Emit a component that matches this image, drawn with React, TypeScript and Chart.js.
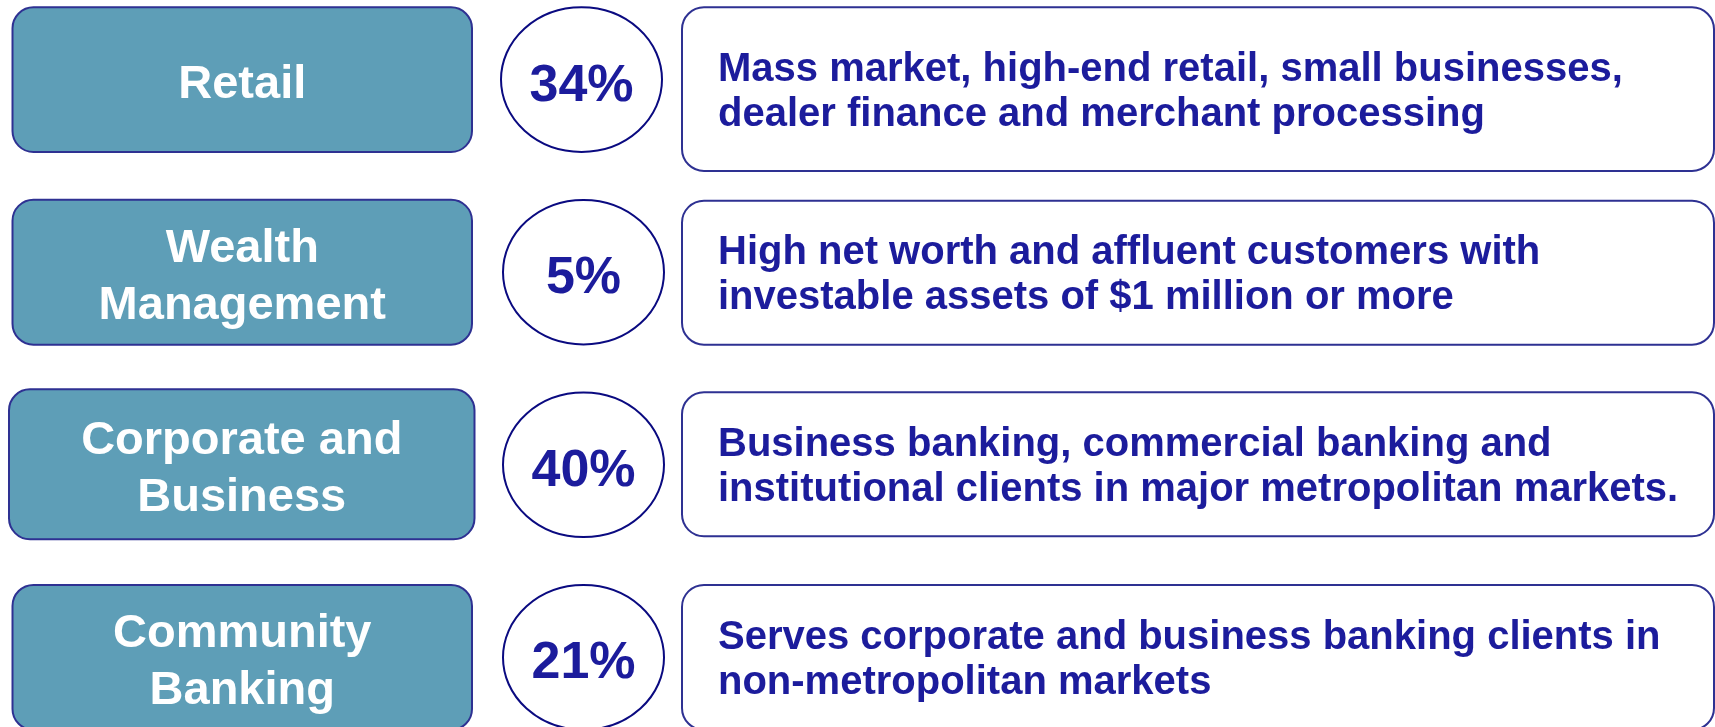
import React, { useEffect, useRef } from "react";
import { Chart, registerables } from "chart.js";

Chart.register(...registerables);

// ---- data ----
const segments: string[][] = [
  ["Retail"],
  ["Wealth", "Management"],
  ["Corporate and", "Business"],
  ["Community", "Banking"],
];
const shares: number[] = [34, 5, 40, 21];
const descriptions: string[][] = [
  ["Mass market, high-end retail, small businesses,", "dealer finance and merchant processing"],
  ["High net worth and affluent customers with", "investable assets of $1 million or more"],
  ["Business banking, commercial banking and", "institutional clients in major metropolitan markets."],
  ["Serves corporate and business banking clients in", "non-metropolitan markets"],
];

// ---- layout (styles / geometry, in x-scale units and pixel offsets from row centre) ----
const W = 1715;
const H = 727;
const ROW_SPACING = 192.6;
const FIRST_ROW = 79.6;
const Y_MIN = -FIRST_ROW / ROW_SPACING;
const Y_MAX = Y_MIN + H / ROW_SPACING;

type RowLayout = {
  left: [number, number];
  leftHalf: [number, number];
  ellipseCx: number;
  right: [number, number];
  rightOff: [number, number];
};
const ROW_LAYOUT: RowLayout[] = [
  { left: [12.5, 472], leftHalf: [-72.3, 72.4], ellipseCx: 581.5, right: [682, 1714], rightOff: [-72.3, 91.4] },
  { left: [12.5, 472], leftHalf: [-72.5, 72.5], ellipseCx: 583.5, right: [682, 1714], rightOff: [-71.5, 72.5] },
  { left: [9, 474.5], leftHalf: [-75.5, 74.5], ellipseCx: 583.5, right: [682, 1714], rightOff: [-72.5, 71.5] },
  { left: [12.5, 472], leftHalf: [-72.5, 72.5], ellipseCx: 583.5, right: [682, 1714], rightOff: [-72.5, 72.5] },
];
const ELLIPSE_RX = 80.5;
const ELLIPSE_RY = 72.3;
const TEXT_X = 718;

const FONT = "'Liberation Sans', Arial, Helvetica, sans-serif";
const BOX_FILL = "#5E9EB7";
const BOX_BORDER = "#2E3192";
const ELLIPSE_STROKE = "#0A0A80";
const TEXT_BLUE = "#1C1C9C";

function roundRectPath(ctx: CanvasRenderingContext2D, x: number, y: number, w: number, h: number, r: number) {
  ctx.beginPath();
  ctx.moveTo(x + r, y);
  ctx.lineTo(x + w - r, y);
  ctx.arcTo(x + w, y, x + w, y + r, r);
  ctx.lineTo(x + w, y + h - r);
  ctx.arcTo(x + w, y + h, x + w - r, y + h, r);
  ctx.lineTo(x + r, y + h);
  ctx.arcTo(x, y + h, x, y + h - r, r);
  ctx.lineTo(x, y + r);
  ctx.arcTo(x, y, x + r, y, r);
  ctx.closePath();
}

const diagramPlugin = {
  id: "segmentDiagram",
  afterDatasetsDraw(chart: any) {
    const ctx: CanvasRenderingContext2D = chart.ctx;
    const xs = chart.scales.x;
    const ys = chart.scales.y;
    ctx.save();
    shares.forEach((share, i) => {
      const L = ROW_LAYOUT[i];
      const cy = ys.getPixelForValue(i);

      // left segment box
      const lx0 = xs.getPixelForValue(L.left[0]);
      const lx1 = xs.getPixelForValue(L.left[1]);
      const ly0 = cy + L.leftHalf[0];
      const ly1 = cy + L.leftHalf[1];
      roundRectPath(ctx, lx0, ly0, lx1 - lx0, ly1 - ly0, 21);
      ctx.fillStyle = BOX_FILL;
      ctx.fill();
      ctx.lineWidth = 2;
      ctx.strokeStyle = BOX_BORDER;
      ctx.stroke();

      const lcy = (ly0 + ly1) / 2;
      ctx.fillStyle = "#FFFFFF";
      ctx.font = `bold 47px ${FONT}`;
      ctx.textAlign = "center";
      ctx.textBaseline = "alphabetic";
      const lines = segments[i];
      const lineH = 57;
      const firstBase = lcy + 18.5 - ((lines.length - 1) * lineH) / 2;
      lines.forEach((t, k) => ctx.fillText(t, (lx0 + lx1) / 2, firstBase + k * lineH));

      // ellipse with share
      const ecx = xs.getPixelForValue(L.ellipseCx);
      ctx.beginPath();
      ctx.ellipse(ecx, cy, ELLIPSE_RX, ELLIPSE_RY, 0, 0, Math.PI * 2);
      ctx.fillStyle = "#FFFFFF";
      ctx.fill();
      ctx.lineWidth = 2;
      ctx.strokeStyle = ELLIPSE_STROKE;
      ctx.stroke();
      ctx.fillStyle = TEXT_BLUE;
      ctx.font = `bold 52px ${FONT}`;
      ctx.fillText(`${share}%`, ecx, cy + 21);

      // right description box
      const rx0 = xs.getPixelForValue(L.right[0]);
      const rx1 = xs.getPixelForValue(L.right[1]);
      const ry0 = cy + L.rightOff[0];
      const ry1 = cy + L.rightOff[1];
      roundRectPath(ctx, rx0, ry0, rx1 - rx0, ry1 - ry0, 22);
      ctx.fillStyle = "#FFFFFF";
      ctx.fill();
      ctx.lineWidth = 2;
      ctx.strokeStyle = BOX_BORDER;
      ctx.stroke();

      const rcy = (ry0 + ry1) / 2;
      ctx.fillStyle = TEXT_BLUE;
      ctx.font = `bold 40px ${FONT}`;
      ctx.textAlign = "left";
      const d = descriptions[i];
      const dLineH = 45;
      const dFirst = rcy + 14 - ((d.length - 1) * dLineH) / 2;
      d.forEach((t, k) => ctx.fillText(t, xs.getPixelForValue(TEXT_X), dFirst + k * dLineH));
    });
    ctx.restore();
  },
};

export default function App() {
  const canvasRef = useRef<HTMLCanvasElement | null>(null);

  useEffect(() => {
    document.body.style.margin = "0";
    const canvas = canvasRef.current;
    if (!canvas) return;
    const chart = new Chart(canvas, {
      type: "scatter",
      data: {
        datasets: [
          {
            label: "Share",
            data: shares.map((s, i) => ({ x: s, y: i })),
            xAxisID: "share",
            pointRadius: 0,
            pointHoverRadius: 0,
          },
        ],
      },
      options: {
        animation: false,
        responsive: false,
        events: [],
        layout: { padding: 0 },
        scales: {
          x: { type: "linear", display: false, min: 0, max: W },
          share: { type: "linear", display: false, min: 0, max: 100 },
          y: { type: "linear", display: false, min: Y_MIN, max: Y_MAX, reverse: true },
        },
        plugins: {
          legend: { display: false },
          tooltip: { enabled: false },
        },
      },
      plugins: [diagramPlugin],
    } as any);
    return () => chart.destroy();
  }, []);

  return (
    <div style={{ position: "absolute", left: 0, top: 0, width: W, height: H, background: "#FFFFFF" }}>
      <canvas ref={canvasRef} width={W} height={H} style={{ display: "block", width: W, height: H }} />
    </div>
  );
}
